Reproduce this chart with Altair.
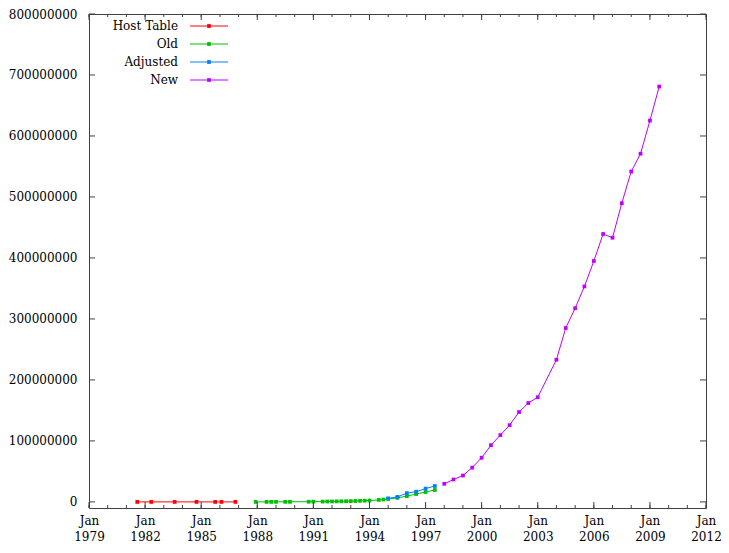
import altair as alt
import pandas as pd

# ---------------- data ----------------
series_names = ["Host Table", "Old", "Adjusted", "New"]
series_colors = ["#ff0000", "#00c000", "#0080ff", "#c000ff"]

host_dates = ["1981-08-01", "1982-05-01", "1983-08-01", "1984-10-01",
              "1985-10-01", "1986-02-01", "1986-11-01"]
host_vals = [213, 235, 562, 1024, 1961, 2308, 5089]

old_dates = ["1987-12-01", "1988-07-01", "1988-10-01", "1989-01-01", "1989-07-01",
             "1989-10-01", "1990-10-01", "1991-01-01", "1991-07-01", "1991-10-01",
             "1992-01-01", "1992-04-01", "1992-07-01", "1992-10-01", "1993-01-01",
             "1993-04-01", "1993-07-01", "1993-10-01", "1994-01-01", "1994-07-01",
             "1994-10-01", "1995-01-01", "1995-07-01", "1996-01-01", "1996-07-01",
             "1997-01-01", "1997-07-01"]
old_vals = [28174, 33000, 56000, 80000, 130000, 159000, 313000, 376000, 535000,
            617000, 727000, 890000, 992000, 1136000, 1313000, 1486000, 1776000,
            2056000, 2217000, 3212000, 3864000, 4852000, 6642000, 9472000,
            12881000, 16146000, 19540000]

adj_dates = ["1995-01-01", "1995-07-01", "1996-01-01", "1996-07-01",
             "1997-01-01", "1997-07-01"]
adj_vals = [5846000, 8200000, 14352000, 16729000, 21819000, 26053000]

new_dates = ["1998-01-01", "1998-07-01", "1999-01-01", "1999-07-01", "2000-01-01",
             "2000-07-01", "2001-01-01", "2001-07-01", "2002-01-01", "2002-07-01",
             "2003-01-01", "2004-01-01", "2004-07-01", "2005-01-01", "2005-07-01",
             "2006-01-01", "2006-07-01", "2007-01-01", "2007-07-01", "2008-01-01",
             "2008-07-01", "2009-01-01", "2009-07-01"]
new_vals = [29670000, 36739000, 43230000, 56218000, 72398092, 93047785,
            109574429, 125888197, 147344723, 162128493, 171638297, 233101481,
            285139107, 317646084, 353284187, 394991609, 439286364, 433193199,
            489774269, 541677360, 570937778, 625226456, 681064561]

x_major_years = list(range(1979, 2013, 3))
x_minor_years = list(range(1979, 2013))
y_ticks = list(range(0, 800000001, 100000000))

# ---------------- tables ----------------
frames = []
for name, d, v in [("Host Table", host_dates, host_vals), ("Old", old_dates, old_vals),
                   ("Adjusted", adj_dates, adj_vals), ("New", new_dates, new_vals)]:
    frames.append(pd.DataFrame({"series": name, "date": d, "hosts": v}))
df = pd.concat(frames, ignore_index=True)

major_df = pd.DataFrame({"date": [f"{y}-01-01" for y in x_major_years]})
minor_df = pd.DataFrame({"date": [f"{y}-01-01" for y in x_minor_years]})
yt_df = pd.DataFrame({"hosts": y_ticks})
legend_df = pd.DataFrame({"series": series_names})

W, H = 617, 494
FONT = "DejaVu Serif"
FS = 12
FRAME = "#404040"

x_scale = alt.Scale(type="utc", domain=["1979-01-01", "2012-01-01"], nice=False)
y_scale = alt.Scale(domain=[-10000000, 800000000], nice=False, zero=False)
color_scale = alt.Scale(domain=series_names, range=series_colors)

x_axis = alt.Axis(values=[f"{y}-01-01" for y in x_major_years],
                  labelExpr="['Jan', utcFormat(datum.value, '%Y')]",
                  ticks=False, tickSize=0, domain=False, grid=False,
                  labelPadding=7, labelLineHeight=16, labelFont=FONT,
                  labelFontSize=FS, labelColor="black", title=None,
                  labelFlush=False, labelOverlap=False)
y_axis = alt.Axis(values=y_ticks, format="d", ticks=False, tickSize=0,
                  domain=False, grid=False, labelPadding=12, labelFont=FONT,
                  labelFontSize=FS, labelColor="black", title=None)

x_enc = alt.X("date:T", scale=x_scale, axis=x_axis)
y_enc = alt.Y("hosts:Q", scale=y_scale, axis=y_axis)

lines = alt.Chart(df).mark_line(
    strokeWidth=1,
    point=alt.OverlayMarkDef(shape="square", size=14, filled=True, opacity=1)
).encode(
    x=x_enc, y=y_enc,
    color=alt.Color("series:N", scale=color_scale, legend=None),
    order=alt.Order("date:T"),
)

major_bot = alt.Chart(major_df).mark_rule(color=FRAME, strokeWidth=1).encode(
    x=x_enc, y=alt.value(H), y2=alt.value(H - 6))
major_top = alt.Chart(major_df).mark_rule(color=FRAME, strokeWidth=1).encode(
    x=x_enc, y=alt.value(0), y2=alt.value(6))
minor_bot = alt.Chart(minor_df).mark_rule(color=FRAME, strokeWidth=1).encode(
    x=x_enc, y=alt.value(H), y2=alt.value(H - 3))
minor_top = alt.Chart(minor_df).mark_rule(color=FRAME, strokeWidth=1).encode(
    x=x_enc, y=alt.value(0), y2=alt.value(3))

ytick_left = alt.Chart(yt_df).mark_rule(color=FRAME, strokeWidth=1).encode(
    y=y_enc, x=alt.value(0), x2=alt.value(6))
ytick_right = alt.Chart(yt_df).mark_rule(color=FRAME, strokeWidth=1).encode(
    y=y_enc, x=alt.value(W), x2=alt.value(W - 6))

main = alt.layer(lines, minor_bot, minor_top, major_bot, major_top, ytick_left, ytick_right)

ly = alt.Y("series:N", scale=alt.Scale(type="point", domain=series_names, range=[12, 66], padding=0), axis=None)
lc = alt.Color("series:N", scale=color_scale, legend=None)
leg_text = alt.Chart(legend_df).mark_text(align="right", baseline="middle", font=FONT,
                                           fontSize=FS, color="black").encode(
    x=alt.value(89), y=ly, text="series:N")
leg_rule = alt.Chart(legend_df).mark_rule(strokeWidth=1).encode(
    x=alt.value(101), x2=alt.value(139), y=ly, color=lc)
leg_pt = alt.Chart(legend_df).mark_point(shape="square", size=14, filled=True, opacity=1).encode(
    x=alt.value(120), y=ly, color=lc)
legend = alt.layer(leg_rule, leg_pt, leg_text)

chart = alt.layer(main, legend).resolve_scale(y="independent").properties(
    width=W, height=H,
    autosize=alt.AutoSizeParams(type="none"),
    padding={"left": 81, "top": 6, "right": 15, "bottom": 37},
).configure_view(stroke=FRAME, strokeWidth=1)

chart.save("out.html", embed_options={"renderer": "svg", "actions": False})
